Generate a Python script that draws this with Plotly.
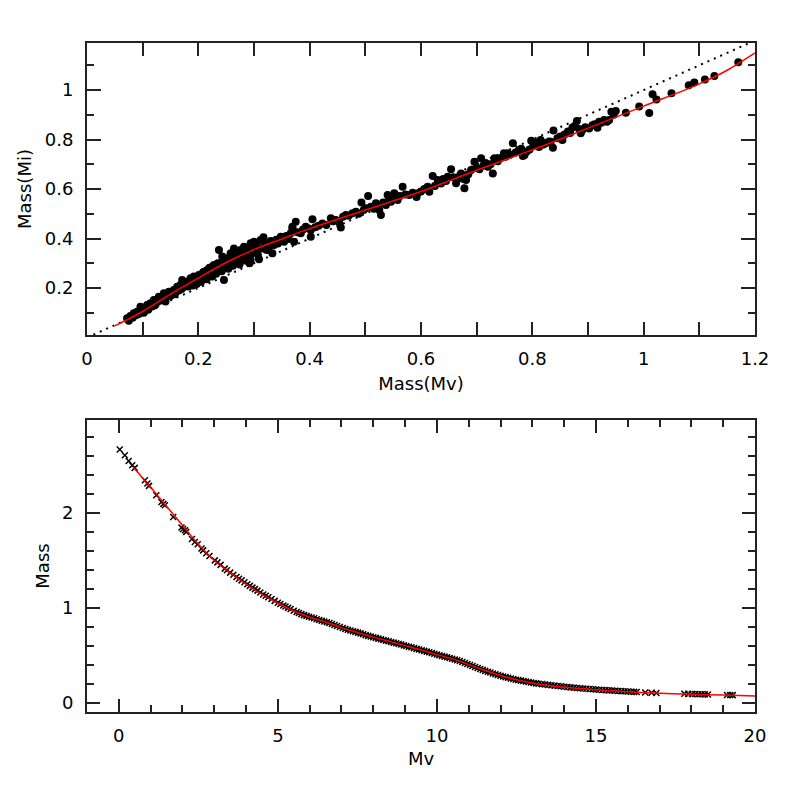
import plotly.graph_objects as go
from plotly.subplots import make_subplots

# top panel: mass from Mv vs mass from Mi
mass_mv = [0.072, 0.075, 0.078, 0.082, 0.084, 0.088, 0.090, 0.093, 0.096, 0.099,
           0.102, 0.105, 0.108, 0.110, 0.114, 0.117, 0.120, 0.122, 0.125, 0.129,
           0.131, 0.135, 0.138, 0.140, 0.141, 0.144, 0.147, 0.150, 0.153, 0.156,
           0.158, 0.160, 0.162, 0.165, 0.168, 0.170, 0.171, 0.174, 0.176, 0.180,
           0.182, 0.184, 0.186, 0.188, 0.190, 0.192, 0.194, 0.195, 0.197, 0.201,
           0.203, 0.205, 0.208, 0.210, 0.212, 0.215, 0.216, 0.218, 0.220, 0.222,
           0.225, 0.226, 0.228, 0.230, 0.232, 0.235, 0.237, 0.238, 0.240, 0.242,
           0.243, 0.245, 0.246, 0.248, 0.250, 0.252, 0.254, 0.256, 0.258, 0.260,
           0.262, 0.264, 0.266, 0.268, 0.270, 0.272, 0.274, 0.276, 0.278, 0.280,
           0.282, 0.284, 0.286, 0.288, 0.290, 0.292, 0.294, 0.294, 0.296, 0.298,
           0.300, 0.302, 0.305, 0.307, 0.309, 0.312, 0.314, 0.317, 0.320, 0.322,
           0.325, 0.327, 0.330, 0.333, 0.336, 0.340, 0.343, 0.348, 0.351, 0.354,
           0.358, 0.362, 0.366, 0.369, 0.369, 0.372, 0.375, 0.378, 0.384, 0.388,
           0.393, 0.398, 0.402, 0.402, 0.405, 0.410, 0.416, 0.423, 0.430, 0.438,
           0.442, 0.447, 0.453, 0.456, 0.460, 0.465, 0.470, 0.477, 0.483, 0.488,
           0.493, 0.497, 0.501, 0.505, 0.510, 0.515, 0.519, 0.523, 0.525, 0.528,
           0.532, 0.537, 0.540, 0.543, 0.546, 0.550, 0.552, 0.555, 0.558, 0.562,
           0.567, 0.572, 0.579, 0.585, 0.592, 0.594, 0.600, 0.606, 0.612, 0.615,
           0.621, 0.625, 0.630, 0.636, 0.640, 0.645, 0.648, 0.654, 0.658, 0.663,
           0.666, 0.670, 0.672, 0.676, 0.678, 0.681, 0.685, 0.690, 0.696, 0.700,
           0.705, 0.708, 0.712, 0.716, 0.720, 0.725, 0.729, 0.732, 0.738, 0.743,
           0.749, 0.752, 0.756, 0.760, 0.765, 0.770, 0.775, 0.780, 0.783, 0.786,
           0.790, 0.795, 0.798, 0.802, 0.807, 0.812, 0.815, 0.820, 0.825, 0.830,
           0.833, 0.837, 0.838, 0.845, 0.850, 0.854, 0.858, 0.864, 0.868, 0.872,
           0.876, 0.880, 0.884, 0.887, 0.890, 0.895, 0.902, 0.908, 0.912, 0.917,
           0.920, 0.924, 0.929, 0.934, 0.938, 0.942, 0.946, 0.950, 0.968, 0.992,
           1.010, 1.016, 1.023, 1.050, 1.081, 1.091, 1.110, 1.127, 1.170]
mass_mi = [0.078, 0.068, 0.087, 0.080, 0.098, 0.090, 0.104, 0.095, 0.124, 0.111,
           0.100, 0.118, 0.131, 0.112, 0.138, 0.125, 0.152, 0.130, 0.142, 0.165,
           0.148, 0.158, 0.179, 0.160, 0.145, 0.170, 0.185, 0.168, 0.178, 0.192,
           0.175, 0.186, 0.205, 0.190, 0.212, 0.196, 0.232, 0.205, 0.218, 0.225,
           0.206, 0.214, 0.239, 0.222, 0.210, 0.246, 0.228, 0.232, 0.216, 0.253,
           0.238, 0.225, 0.262, 0.266, 0.245, 0.235, 0.273, 0.256, 0.282, 0.250,
           0.246, 0.288, 0.293, 0.270, 0.258, 0.300, 0.354, 0.280, 0.300, 0.268,
           0.327, 0.290, 0.232, 0.312, 0.296, 0.320, 0.278, 0.305, 0.340, 0.318,
           0.290, 0.360, 0.330, 0.305, 0.340, 0.318, 0.295, 0.354, 0.335, 0.322,
           0.367, 0.345, 0.310, 0.330, 0.352, 0.300, 0.381, 0.313, 0.340, 0.362,
           0.387, 0.350, 0.372, 0.333, 0.316, 0.394, 0.360, 0.405, 0.378, 0.355,
           0.354, 0.367, 0.390, 0.340, 0.374, 0.395, 0.380, 0.407, 0.392, 0.387,
           0.410, 0.398, 0.421, 0.441, 0.448, 0.387, 0.468, 0.425, 0.421, 0.436,
           0.448, 0.440, 0.434, 0.407, 0.478, 0.445, 0.452, 0.461, 0.455, 0.482,
           0.470, 0.475, 0.466, 0.444, 0.488, 0.495, 0.492, 0.502, 0.508, 0.500,
           0.545, 0.515, 0.522, 0.572, 0.528, 0.520, 0.542, 0.530, 0.515, 0.495,
           0.545, 0.535, 0.576, 0.560, 0.549, 0.566, 0.583, 0.562, 0.556, 0.572,
           0.609, 0.578, 0.576, 0.585, 0.568, 0.583, 0.590, 0.600, 0.609, 0.589,
           0.653, 0.612, 0.636, 0.622, 0.640, 0.632, 0.650, 0.680, 0.648, 0.623,
           0.643, 0.655, 0.663, 0.640, 0.603, 0.636, 0.660, 0.677, 0.710, 0.685,
           0.680, 0.724, 0.695, 0.705, 0.690, 0.700, 0.663, 0.724, 0.712, 0.725,
           0.744, 0.730, 0.744, 0.738, 0.785, 0.748, 0.755, 0.763, 0.733, 0.737,
           0.752, 0.760, 0.795, 0.775, 0.787, 0.770, 0.798, 0.780, 0.786, 0.792,
           0.791, 0.767, 0.836, 0.805, 0.812, 0.798, 0.820, 0.832, 0.826, 0.849,
           0.855, 0.875, 0.842, 0.825, 0.838, 0.850, 0.845, 0.858, 0.862, 0.848,
           0.872, 0.868, 0.879, 0.872, 0.879, 0.912, 0.900, 0.915, 0.908, 0.933,
           0.907, 0.983, 0.962, 0.987, 1.019, 1.030, 1.043, 1.057, 1.112]

# fitted relation (red) for the top panel
fit_top_x = [0.05, 0.10, 0.15, 0.20, 0.25, 0.30, 0.35, 0.40, 0.50, 0.60,
             0.70, 0.80, 0.90, 1.00, 1.10, 1.15, 1.20]
fit_top_y = [0.047, 0.105, 0.175, 0.240, 0.303, 0.355, 0.398, 0.440, 0.515, 0.590,
             0.676, 0.758, 0.846, 0.935, 1.025, 1.080, 1.150]

one_to_one = [0.0, 1.2]

# bottom panel: Mv vs mass
mv = [0.03, 0.19, 0.31, 0.42, 0.50, 0.82, 0.90, 0.95, 1.18, 1.34,
      1.40, 1.45, 1.71, 1.97, 2.02, 2.08, 2.12, 2.30, 2.39, 2.48,
      2.60, 2.65, 2.75, 2.85, 3.02, 3.10, 3.20, 3.33, 3.40, 3.50,
      3.60, 3.70, 3.78, 3.86, 3.95, 4.04, 4.12, 4.20, 4.28, 4.36,
      4.45, 4.54, 4.62, 4.70, 4.80, 4.90, 5.00, 5.08, 5.17, 5.24,
      5.32, 5.40, 5.50, 5.59, 5.66, 5.74, 5.82, 5.90, 5.98, 6.06,
      6.14, 6.22, 6.30, 6.38, 6.46, 6.54, 6.62, 6.70, 6.78, 6.86,
      6.95, 7.04, 7.12, 7.20, 7.28, 7.36, 7.44, 7.52, 7.60, 7.68,
      7.76, 7.84, 7.92, 8.00, 8.08, 8.16, 8.24, 8.32, 8.40, 8.48,
      8.56, 8.64, 8.72, 8.80, 8.88, 8.96, 9.04, 9.12, 9.20, 9.28,
      9.36, 9.44, 9.52, 9.60, 9.68, 9.76, 9.84, 9.92, 10.00, 10.08,
      10.16, 10.24, 10.32, 10.40, 10.48, 10.56, 10.64, 10.72, 10.80, 10.88,
      10.96, 11.04, 11.12, 11.20, 11.28, 11.36, 11.44, 11.52, 11.60, 11.68,
      11.76, 11.84, 11.92, 12.00, 12.08, 12.16, 12.24, 12.32, 12.40, 12.48,
      12.56, 12.64, 12.72, 12.80, 12.88, 12.96, 13.04, 13.12, 13.20, 13.30,
      13.40, 13.50, 13.60, 13.70, 13.80, 13.90, 14.00, 14.10, 14.20, 14.30,
      14.40, 14.50, 14.60, 14.70, 14.80, 14.90, 15.00, 15.10, 15.20, 15.30,
      15.40, 15.50, 15.60, 15.70, 15.80, 15.90, 16.00, 16.10, 16.20, 16.28,
      16.55, 16.75, 16.90, 17.78, 17.90, 18.02, 18.12, 18.22, 18.32, 18.42,
      18.52, 19.12, 19.22, 19.30]
mass = [2.668, 2.608, 2.548, 2.503, 2.475, 2.344, 2.310, 2.285, 2.186, 2.115,
        2.095, 2.080, 1.957, 1.845, 1.830, 1.816, 1.800, 1.725, 1.693, 1.670,
        1.625, 1.605, 1.575, 1.545, 1.499, 1.478, 1.452, 1.412, 1.395, 1.370,
        1.348, 1.323, 1.305, 1.288, 1.268, 1.248, 1.230, 1.212, 1.196, 1.180,
        1.160, 1.140, 1.126, 1.110, 1.092, 1.072, 1.052, 1.040, 1.024, 1.012,
        0.998, 0.986, 0.968, 0.954, 0.944, 0.932, 0.922, 0.914, 0.904, 0.896,
        0.888, 0.878, 0.870, 0.862, 0.855, 0.846, 0.838, 0.828, 0.818, 0.808,
        0.797, 0.786, 0.776, 0.768, 0.760, 0.752, 0.745, 0.737, 0.729, 0.720,
        0.711, 0.703, 0.696, 0.689, 0.682, 0.674, 0.667, 0.660, 0.653, 0.646,
        0.639, 0.632, 0.625, 0.618, 0.611, 0.603, 0.596, 0.589, 0.582, 0.574,
        0.566, 0.559, 0.552, 0.545, 0.537, 0.530, 0.522, 0.514, 0.506, 0.499,
        0.491, 0.484, 0.477, 0.469, 0.461, 0.453, 0.445, 0.437, 0.427, 0.417,
        0.406, 0.396, 0.385, 0.374, 0.364, 0.354, 0.344, 0.334, 0.325, 0.316,
        0.306, 0.298, 0.290, 0.283, 0.275, 0.268, 0.261, 0.254, 0.248, 0.241,
        0.236, 0.231, 0.226, 0.221, 0.216, 0.212, 0.206, 0.202, 0.198, 0.194,
        0.190, 0.186, 0.182, 0.178, 0.175, 0.171, 0.167, 0.163, 0.160, 0.157,
        0.154, 0.151, 0.148, 0.146, 0.143, 0.140, 0.137, 0.135, 0.133, 0.131,
        0.128, 0.126, 0.124, 0.122, 0.120, 0.118, 0.116, 0.114, 0.112, 0.110,
        0.106, 0.103, 0.101, 0.092, 0.091, 0.090, 0.089, 0.088, 0.087, 0.086,
        0.085, 0.080, 0.079, 0.078]

fit_mv = [0.45, 1.0, 1.5, 2.0, 2.5, 3.0, 3.5, 4.0, 4.5, 5.0,
          5.5, 6.0, 6.5, 7.0, 7.5, 8.0, 8.5, 9.0, 9.5, 10.0,
          10.5, 11.0, 11.5, 12.0, 12.5, 13.0, 13.5, 14.0, 15.0, 16.0,
          17.0, 18.0, 19.0, 20.0]
fit_mass = [2.485, 2.270, 2.070, 1.870, 1.670, 1.500, 1.370, 1.250, 1.140, 1.050,
            0.965, 0.900, 0.850, 0.790, 0.740, 0.690, 0.645, 0.600, 0.555, 0.505,
            0.460, 0.400, 0.340, 0.285, 0.240, 0.205, 0.180, 0.162, 0.134, 0.113,
            0.098, 0.088, 0.078, 0.068]

FONT = "DejaVu Sans"
AX = "#222222"

fig = make_subplots(rows=2, cols=1, vertical_spacing=0.13)

fig.add_trace(go.Scatter(x=one_to_one, y=one_to_one, mode="lines",
                         line=dict(color="black", width=2, dash="2px,5px")), row=1, col=1)
fig.add_trace(go.Scatter(x=mass_mv, y=mass_mi, mode="markers",
                         marker=dict(color="black", size=8, line=dict(width=0))), row=1, col=1)
fig.add_trace(go.Scatter(x=fit_top_x, y=fit_top_y, mode="lines", line_shape="spline",
                         line=dict(color="red", width=1.5)), row=1, col=1)

fig.add_trace(go.Scatter(x=mv, y=mass, mode="markers",
                         marker=dict(symbol="x-thin", size=6, color="black",
                                     line=dict(color="black", width=1.5))), row=2, col=1)
fig.add_trace(go.Scatter(x=fit_mv, y=fit_mass, mode="lines", line_shape="spline",
                         line=dict(color="red", width=1.5)), row=2, col=1)

common = dict(showline=True, linecolor=AX, linewidth=2, mirror="ticks",
              ticks="inside", tickcolor=AX, tickwidth=1.5, showgrid=False,
              zeroline=False, automargin=False,
              tickfont=dict(family=FONT, size=18, color="black"),
              title_font=dict(family=FONT, size=18, color="black"))

fig.update_xaxes(range=[0, 1.2], dtick=0.2, tick0=0, ticklen=13,
                 minor=dict(dtick=0.1, ticklen=13, ticks="inside", tickcolor=AX, tickwidth=1.5),
                 title_text="Mass(Mv)", title_standoff=10, ticklabelstandoff=6,
                 row=1, col=1, **common)
fig.update_yaxes(range=[0.01, 1.19], dtick=0.2, tick0=0, ticklen=14,
                 minor=dict(dtick=0.1, ticklen=7, ticks="inside", tickcolor=AX, tickwidth=1.5),
                 title_text="Mass(Mi)", title_standoff=8, ticklabelstandoff=8,
                 row=1, col=1, **common)
fig.update_xaxes(range=[-1, 20], dtick=5, tick0=0, ticklen=13,
                 minor=dict(dtick=1, ticklen=7, ticks="inside", tickcolor=AX, tickwidth=1.5),
                 title_text="Mv", title_standoff=8, ticklabelstandoff=6,
                 row=2, col=1, **common)
fig.update_yaxes(range=[-0.1, 2.98], dtick=1, tick0=0, ticklen=13,
                 minor=dict(dtick=0.2, ticklen=7, ticks="inside", tickcolor=AX, tickwidth=1.5),
                 title_text="Mass", title_standoff=8, ticklabelstandoff=8,
                 row=2, col=1, **common)

# page body adds an 8px offset, so the figure is a bit smaller than the window
fig.update_layout(
    width=789, height=789,
    margin=dict(l=79, r=42, t=35, b=85),
    paper_bgcolor="white", plot_bgcolor="white",
    showlegend=False,
    yaxis=dict(domain=[0.5635, 1.0]),
    yaxis2=dict(domain=[0.0, 0.4365]),
)

fig.write_html("out.html")
